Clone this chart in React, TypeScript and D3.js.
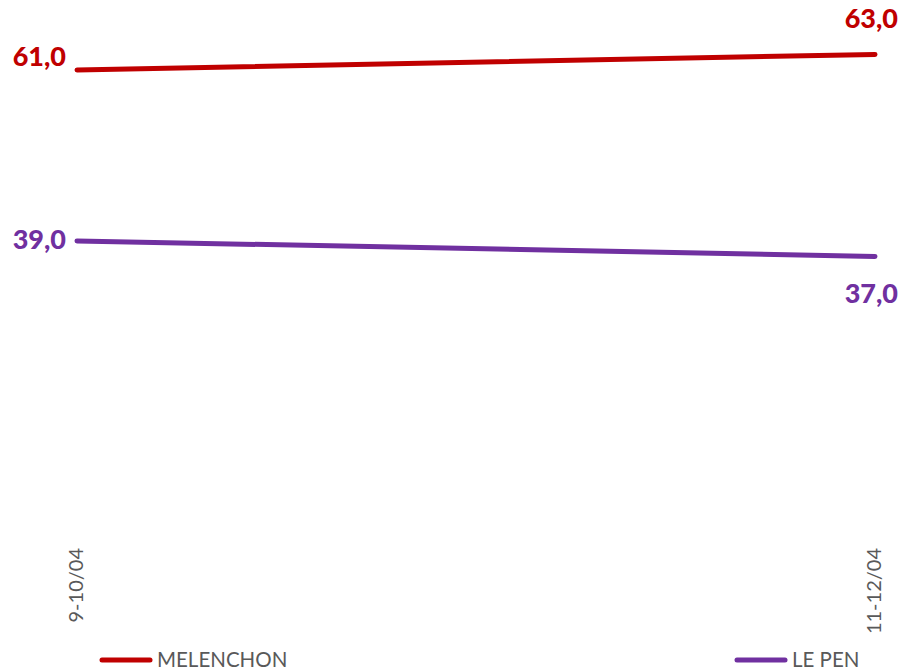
import React from "react";
import * as d3 from "d3";

const categories = ["9-10/04", "11-12/04"];
const melenchon = [61.0, 63.0];
const lepen = [39.0, 37.0];
const seriesNames = ["MELENCHON", "LE PEN"];

const W = 902, H = 672;
const RED = "#C00000";
const PURPLE = "#7030A0";
const FONT = "Lato, 'Open Sans', sans-serif";

export default function App() {
  const x = d3.scalePoint<string>().domain(categories).range([77, 875]);
  const y = d3.scaleLinear().domain([0, 70]).range([544, 0]);
  const line = d3.line<number>().x((_, i) => x(categories[i])!).y(d => y(d));
  const fmt = (v: number) => v.toFixed(1).replace(".", ",");

  const series = [
    { name: seriesNames[0], values: melenchon, color: RED, firstDy: -4, lastDy: -26 },
    { name: seriesNames[1], values: lepen, color: PURPLE, firstDy: 8, lastDy: 47 },
  ];

  return (
    <svg width={W} height={H} style={{ position: "absolute", left: 0, top: 0, background: "#fff" }}>
      {series.map(s => (
        <g key={s.name}>
          <path d={line(s.values)!} fill="none" stroke={s.color} strokeWidth={5} strokeLinecap="round" />
          <text x={x(categories[0])! - 11} y={y(s.values[0]) + s.firstDy} textAnchor="end" fontFamily={FONT}
            fontWeight={900} fontSize={27} fill={s.color}>{fmt(s.values[0])}</text>
          <text x={x(categories[1])! + 23} y={y(s.values[1]) + s.lastDy}
            textAnchor="end" fontFamily={FONT} fontWeight={900} fontSize={27} fill={s.color}>{fmt(s.values[1])}</text>
        </g>
      ))}
      {categories.map(c => (
        <text key={c} transform={`translate(${x(c)! + 6},548) rotate(-90)`} textAnchor="end"
          fontFamily={FONT} fontSize={20} fill="#595959">{c}</text>
      ))}
      {series.map((s, i) => {
        const lx = i === 0 ? 100 : 735;
        return (
          <g key={"leg" + s.name}>
            <line x1={lx + 2} x2={lx + 50} y1={660} y2={660} stroke={s.color} strokeWidth={5} strokeLinecap="round" />
            <text x={lx + 57} y={667} fontFamily={FONT} fontSize={20.5} fill="#595959">{s.name}</text>
          </g>
        );
      })}
    </svg>
  );
}
